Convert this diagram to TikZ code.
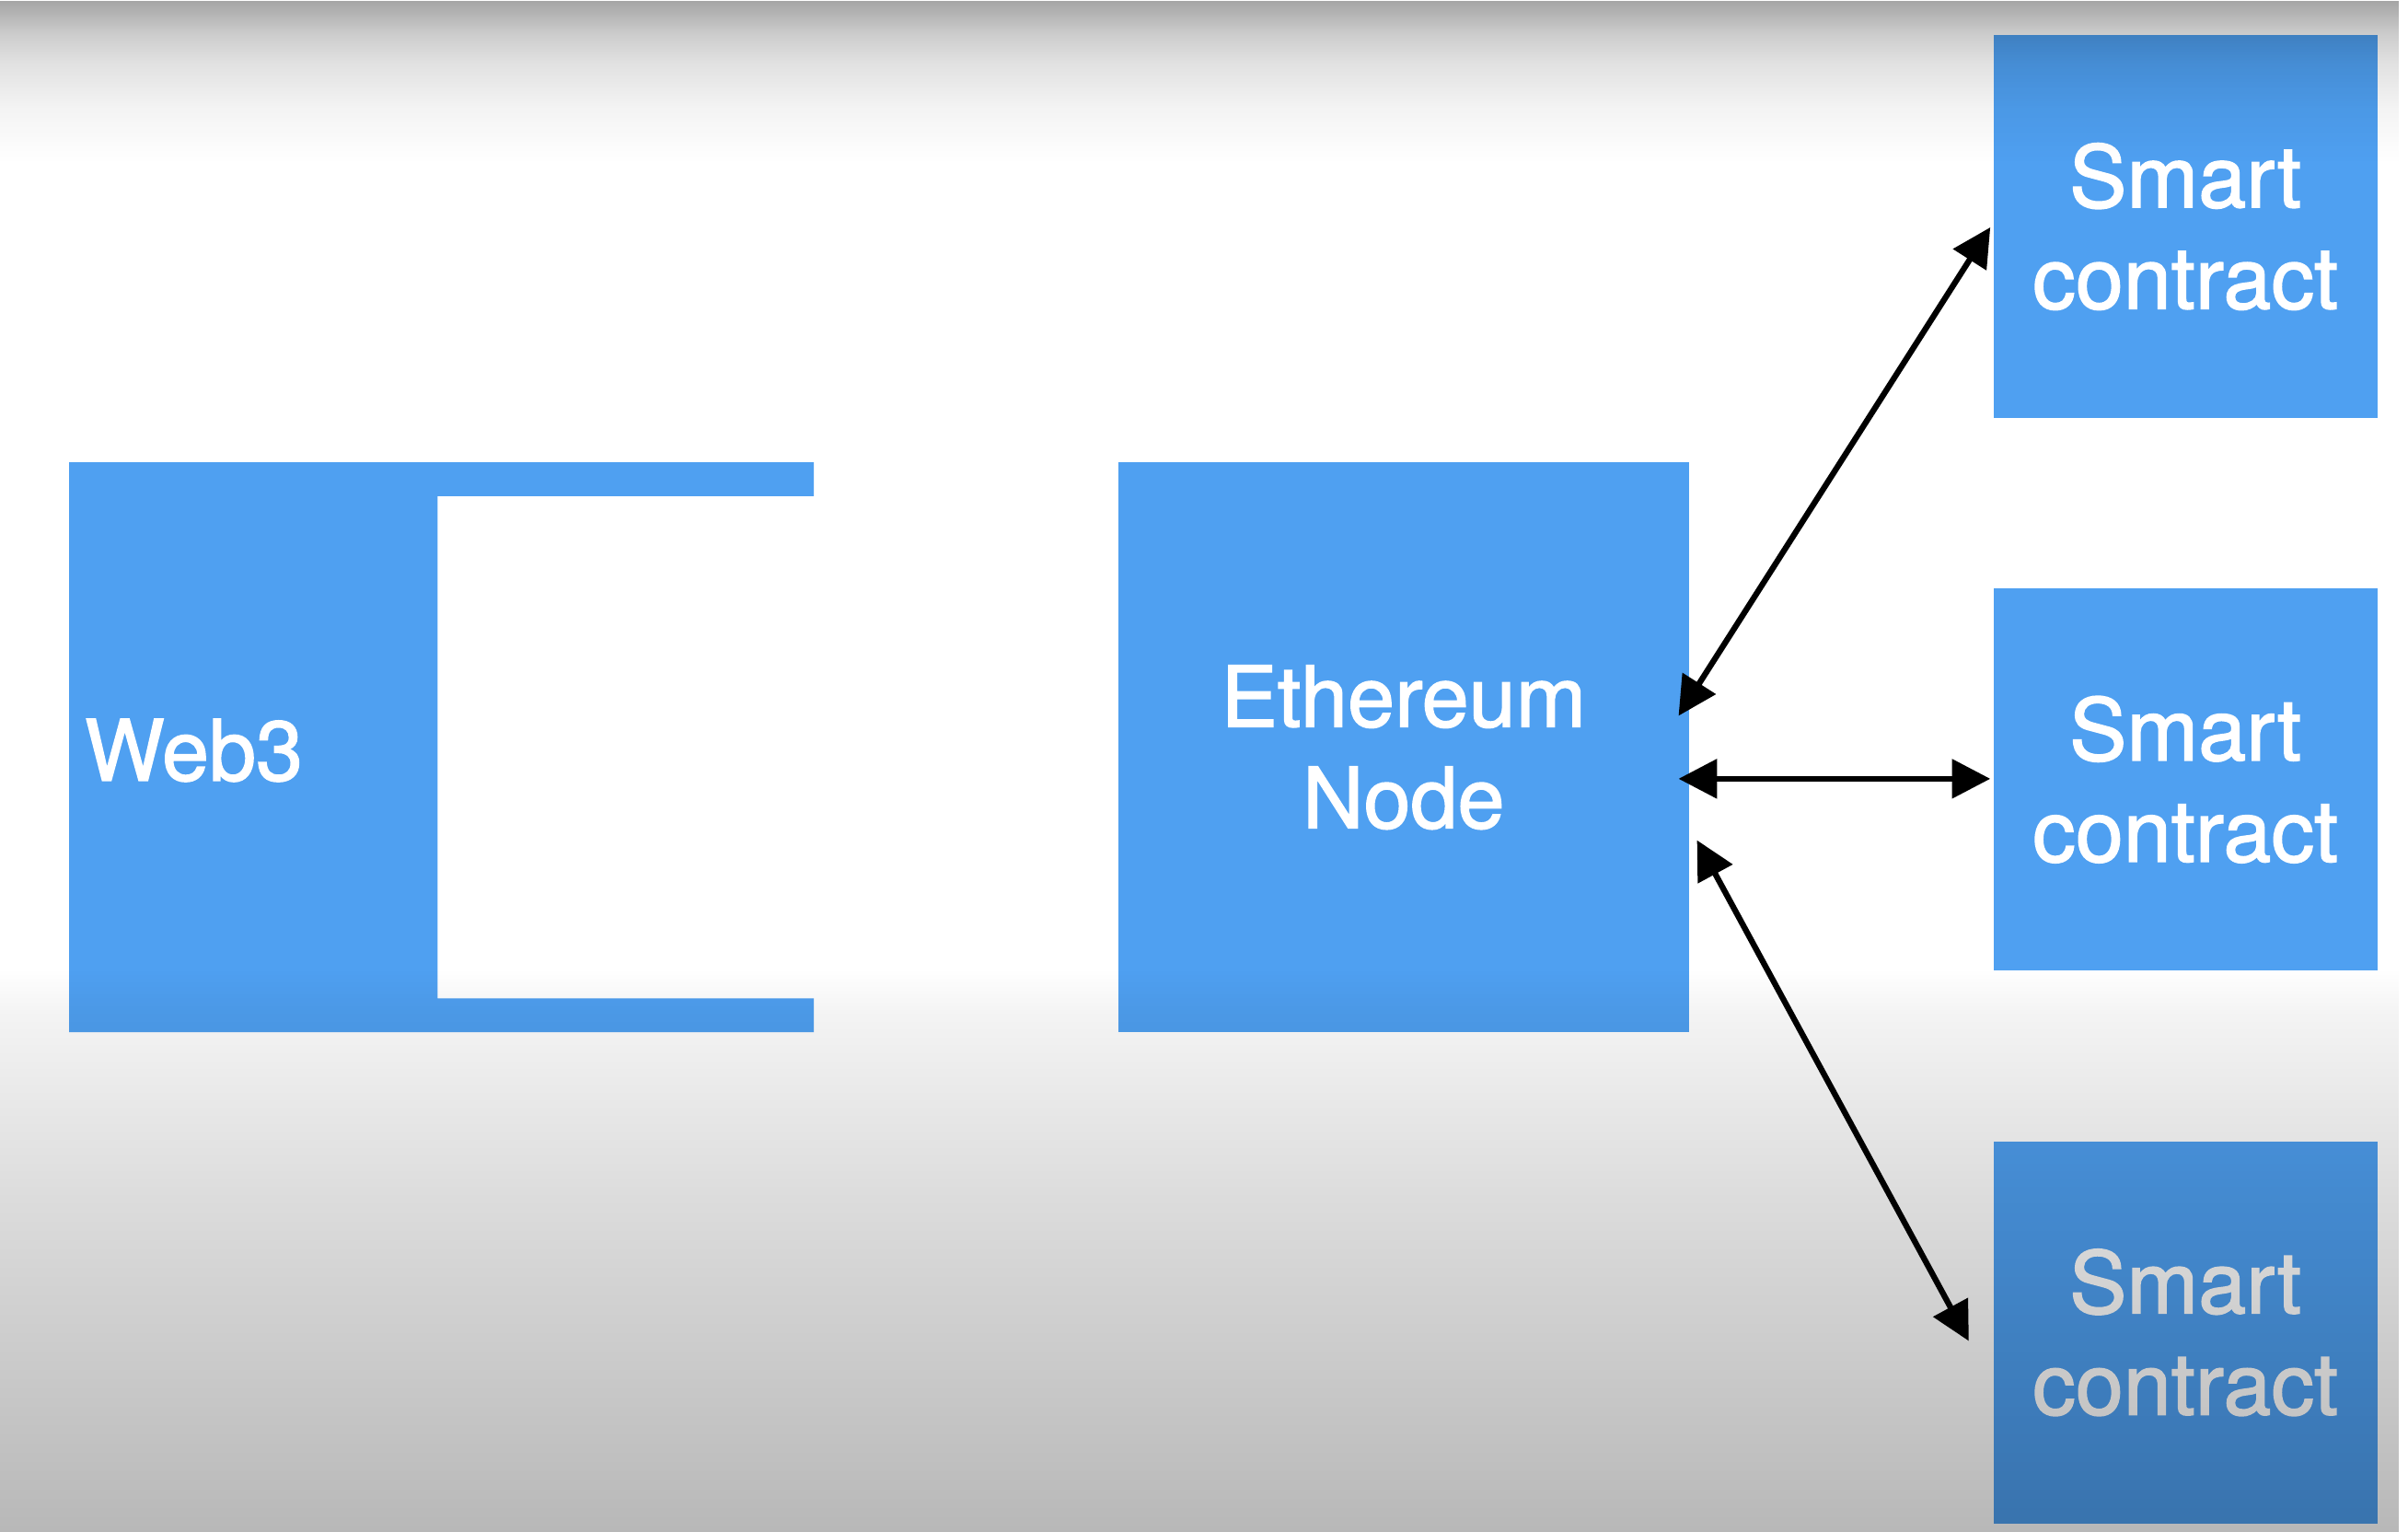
\documentclass[tikz,border=0pt]{standalone}
\usepackage{fontspec}
\setmainfont{TeX Gyre Heros}[FakeBold=1.6]
\usetikzlibrary{arrows.meta,fadings}
\definecolor{boxblue}{RGB}{79,160,241}
% fit fading maps the central 50bp (25bp..75bp) of the fading onto the path
\pgfdeclareverticalshading{vigsh}{100bp}{%
 color(0bp)=(white!28!black); color(25bp)=(white!28!black);
 color(29.9bp)=(white!21.6!black);
 color(35.95bp)=(white!13.7!black); color(41.95bp)=(white!4.5!black);
 color(43.4bp)=(black); color(69.6bp)=(black);
 color(71.4bp)=(white!4.5!black); color(72.9bp)=(white!12!black);
 color(73.8bp)=(white!20!black); color(75bp)=(white!37!black);
 color(100bp)=(white!37!black)}
\pgfdeclarefading{vig}{\pgfuseshading{vigsh}}
\tikzset{
  lbl/.style={text=white, font=\fontsize{55}{66}\selectfont, align=center, inner sep=0pt},
  bluebox/.style={lbl, fill=boxblue, draw=none, outer sep=0pt, rectangle},
  scbox/.style={bluebox, minimum width=250pt, minimum height=249pt,
    font=\fontsize{56}{66}\selectfont},
  biarrow/.style={draw=black, line width=3.8pt,
    {Triangle[length=25pt,width=25pt]}-{Triangle[length=25pt,width=25pt]}}
}
\begin{document}
\begin{tikzpicture}[x=1pt,y=-1pt]
\useasboundingbox (0,0) rectangle (1568,997);
\fill[white] (0,0) rectangle (1568,997);
% Web3 bracket shape
\fill[boxblue] (45,301) -- (530,301) -- (530,323) -- (285,323) -- (285,650)
  -- (530,650) -- (530,672) -- (45,672) -- cycle;
\node[lbl, anchor=west] (web3) at (55,488.5) {Web3};
% Ethereum node
\node[bluebox, minimum width=372pt, minimum height=371pt] (eth) at (914,486.5) {Ethereum\\Node};
% Smart contracts
\node[scbox] (sc1) at (1423,147.5) {Smart\\contract};
\node[scbox] (sc2) at (1423,507.5) {Smart\\contract};
\node[scbox] (sc3) at (1423,867.5) {Smart\\contract};
% arrow end points
\coordinate (e1) at (1093,466);
\coordinate (s1) at (1296,148);
\coordinate (e2) at (1093,507);
\coordinate (s2) at (1296,507);
\coordinate (e3) at (1105,547);
\coordinate (s3) at (1282,873);
\draw[biarrow] (e1) -- (s1);
\draw[biarrow] (e2) -- (s2);
\draw[biarrow] (e3) -- (s3);
% vignette overlay
\fill[black, path fading=vig] (0,0) rectangle (1568,997);
\end{tikzpicture}
\end{document}
